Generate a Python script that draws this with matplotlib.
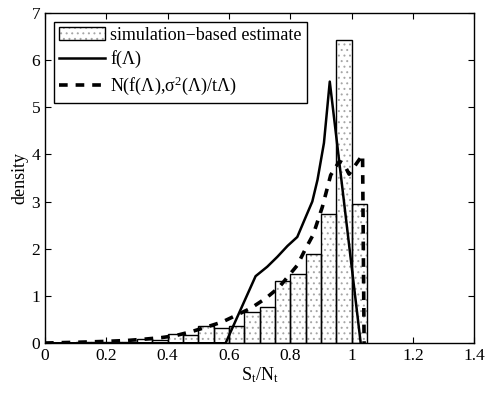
import matplotlib
matplotlib.use("Agg")
import numpy as np
import matplotlib.pyplot as plt
import matplotlib.patches as patches

plt.rcParams["font.family"] = ["Liberation Serif", "DejaVu Serif"]
plt.rcParams["mathtext.fontset"] = "custom"
plt.rcParams["mathtext.rm"] = "Liberation Serif"
plt.rcParams["mathtext.it"] = "Liberation Serif"
plt.rcParams["hatch.linewidth"] = 0.7

# histogramme (bins de 0.05 entre 0 et 1.05)
bin_edges = np.round(np.arange(0, 1.0501, 0.05), 3)
bin_heights = [0.01, 0.01, 0.03, 0.02, 0.02, 0.03, 0.10, 0.07, 0.19, 0.17,
               0.36, 0.33, 0.36, 0.66, 0.76, 1.32, 1.47, 1.89, 2.74, 6.43, 2.94]

# f(Lambda)
f_x = [0, 0.589, 0.687, 0.725, 0.758, 0.791, 0.823, 0.851, 0.872, 0.889, 0.910, 0.929, 1.030]
f_y = [0, 0, 1.42, 1.62, 1.83, 2.06, 2.25, 2.68, 3.0, 3.46, 4.24, 5.54, 0]

# approximation normale
n_x = [0, 0.1, 0.2, 0.27, 0.33, 0.38, 0.425, 0.48, 0.53, 0.578, 0.62, 0.671, 0.72,
       0.763, 0.823, 0.85, 0.875, 0.905, 0.932, 0.96, 0.975, 0.992, 1.036, 1.041]
n_y = [0.005, 0.02, 0.04, 0.06, 0.09, 0.12, 0.16, 0.25, 0.35, 0.45, 0.58, 0.74, 0.95,
       1.18, 1.65, 2.0, 2.3, 2.89, 3.56, 3.85, 3.8, 3.58, 3.99, 0]

x_ticks = [0, 0.2, 0.4, 0.6, 0.8, 1.0, 1.2, 1.4]
x_labels = ["0", "0.2", "0.4", "0.6", "0.8", "1", "1.2", "1.4"]

fig = plt.figure(figsize=(4.86, 3.95), dpi=100)
ax = fig.add_axes([0.0926, 0.131, 0.883, 0.837])

left = bin_edges[:-1]
width = np.diff(bin_edges)
# remplissage pointillé puis contour noir
ax.bar(left, bin_heights, width=width, align="edge", facecolor="white",
       edgecolor="0.65", hatch="...", linewidth=0, zorder=1)
ax.bar(left, bin_heights, width=width, align="edge", fill=False,
       edgecolor="black", linewidth=1.0, zorder=2)

ax.plot(f_x, f_y, color="black", linewidth=1.8, zorder=3)
ax.plot(n_x, n_y, color="black", linewidth=2.6, dashes=(2.4, 2.2), zorder=3)

ax.set_xlim(0, 1.4)
ax.set_ylim(0, 7)
ax.set_xticks(x_ticks)
ax.set_xticklabels(x_labels)
ax.set_yticks(range(0, 8))
ax.tick_params(direction="in", top=True, right=True, labelsize=12.5, length=4)
for s in ax.spines.values():
    s.set_linewidth(1.0)

ax.set_xlabel("S$_t$/N$_t$", fontsize=13, labelpad=1)
ax.set_ylabel("density", fontsize=13, labelpad=2)

h_fill = patches.Patch(facecolor="white", edgecolor="0.65", hatch="...", linewidth=0)
h_edge = patches.Patch(fill=False, edgecolor="black", linewidth=1.0)
h_f, = ax.plot([], [], color="black", linewidth=1.8)
h_n, = ax.plot([], [], color="black", linewidth=2.6, dashes=(2.4, 2.2))
leg = ax.legend([(h_fill, h_edge), h_f, h_n],
                ["simulation\u2212based estimate", "f(\u039b)",
                 "N(f(\u039b),\u03c3$^2$(\u039b)/t\u039b)"],
                loc="upper left", fontsize=13, fancybox=False, framealpha=1,
                edgecolor="black", borderpad=0.3, handlelength=2.5,
                handletextpad=0.3, labelspacing=0.35, borderaxespad=0.5)
leg.get_frame().set_linewidth(1.0)

fig.savefig("out.png", dpi=100)
